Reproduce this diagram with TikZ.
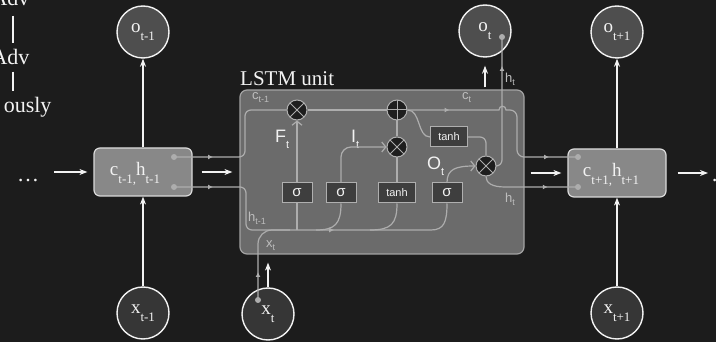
\documentclass[tikz,border=0pt]{standalone}
\usepackage{fontspec}
\setmainfont{Liberation Serif}
\newfontfamily\sansf{Liberation Sans}
\usetikzlibrary{arrows.meta,decorations.markings,calc}

\definecolor{bgc}{HTML}{1C1C1C}
\definecolor{unitfill}{HTML}{6B6B6B}
\definecolor{unitdraw}{HTML}{A3A3A3}
\definecolor{chfill}{HTML}{888888}
\definecolor{chdraw}{HTML}{DADADA}
\definecolor{gatefill}{HTML}{3E3E3E}
\definecolor{gatedraw}{HTML}{AFAFAF}
\definecolor{wirec}{HTML}{ADADAD}
\definecolor{opfill}{HTML}{1E1E1E}
\definecolor{ofill}{HTML}{4E4E4E}
\definecolor{xfill}{HTML}{363636}
\definecolor{lblc}{HTML}{BDBDBD}
\definecolor{wht}{HTML}{F2F2F2}

\newcommand\bigsub[2]{#1\raisebox{-8pt}{\fontsize{13}{13}\selectfont #2}}
\newcommand\gsub[2]{#1\raisebox{-3pt}{\fontsize{9}{9}\selectfont #2}}
\newcommand\gatesub[2]{#1\raisebox{-6pt}{\fontsize{11}{11}\selectfont #2}}

\begin{document}
\begin{tikzpicture}[x=1pt,y=-1pt,
  circ/.style={circle, draw=wht, line width=1.4pt, minimum size=52pt, inner sep=0pt,
    font=\fontsize{19}{19}\selectfont, text=wht},
  ocirc/.style={circ, fill=ofill},
  xcirc/.style={circ, fill=xfill},
  chbox/.style={rectangle, rounded corners=6pt, draw=chdraw, line width=1.2pt, fill=chfill,
    minimum width=98pt, minimum height=48pt},
  chtext/.style={text=wht, font=\fontsize{19}{19}\selectfont, inner sep=0pt},
  unitbox/.style={rectangle, rounded corners=7pt, draw=unitdraw, line width=1.2pt, fill=unitfill,
    minimum width=284pt, minimum height=164pt},
  gatebox/.style={rectangle, draw=gatedraw, line width=1pt, fill=gatefill, minimum height=20pt,
    inner sep=0pt, text=wht},
  sig/.style={gatebox, minimum width=30pt, font=\sansf\fontsize{15}{15}\selectfont},
  tanhbox/.style={gatebox, minimum width=37pt, font=\sansf\fontsize{11}{11}\selectfont},
  op/.style={circle, draw=gatedraw, line width=1pt, fill=opfill, minimum size=20pt, inner sep=0pt},
  times/.style={op, path picture={\draw[wirec, line width=1pt]
      ([shift={(45:10pt)}]path picture bounding box.center) -- ([shift={(225:10pt)}]path picture bounding box.center)
      ([shift={(135:10pt)}]path picture bounding box.center) -- ([shift={(-45:10pt)}]path picture bounding box.center);}},
  plus/.style={op, path picture={\draw[wirec, line width=1pt]
      ([xshift=-10pt]path picture bounding box.center) -- ([xshift=10pt]path picture bounding box.center)
      ([yshift=-10pt]path picture bounding box.center) -- ([yshift=10pt]path picture bounding box.center);}},
  wireline/.style={draw=wirec, line width=1.2pt},
  midarr/.style={postaction={decorate, decoration={markings,
      mark=at position #1 with {\arrow{Latex[length=5pt,width=5pt]}}}}},
  openarr/.style={-{Straight Barb[length=4pt,width=10pt]}},
  warrow/.style={draw=wht, line width=1.3pt, -{Stealth[length=8pt,width=6pt]}},
  dotn/.style={circle, fill=wirec, minimum size=6pt, inner sep=0pt},
  treetxt/.style={text=wht, font=\fontsize{22}{22}\selectfont},
  treeline/.style={draw=wht, line width=1.3pt},
  gl/.style={text=lblc, font=\sansf\fontsize{13}{13}\selectfont, anchor=base west, inner sep=0pt},
  wl/.style={text=wht, font=\sansf\fontsize{18}{18}\selectfont, anchor=base west, inner sep=0pt}
]
\useasboundingbox (0,0) rectangle (716,342);
\fill[bgc] (0,0) rectangle (716,342);

% left tree text
\node[treetxt, anchor=base east] (adv1) at (33,6) {Adv};
\node[treetxt, anchor=base east] (adv2) at (33,65) {Adv};
\node[treetxt, anchor=base east] (ously) at (55,113) {ously};
\draw[treeline, shorten <=6pt, shorten >=3pt] (adv1.south -| 13,0) -- (adv2.north -| 13,0);
\draw[treeline, shorten <=3pt, shorten >=3pt] (adv2.south -| 13,0) -- (ously.north -| 13,0);

% ellipses
\node[treetxt, anchor=base west, inner sep=0pt] (ellL) at (17,182) {…};
\node[treetxt, anchor=base west, inner sep=0pt] (ellR) at (711,182) {…};

% LSTM unit
\node[unitbox] (unit) at (382,172) {};
\node[anchor=base west, inner sep=0pt, text=wht, font=\fontsize{21}{21}\selectfont] (unitlbl) at (240,86) {LSTM unit};

% state boxes
\node[chbox] (boxL) at (143,172) {};
\node[chtext] (tL) at (135,174) {\bigsub{c}{t-1,}\bigsub{h}{t-1}};
\node[chbox] (boxR) at (617,173) {};
\node[chtext] (tR) at (611,175) {\bigsub{c}{t+1,}\bigsub{h}{t+1}};

% circles
\node[ocirc] (o1) at (143,32) {\bigsub{o}{t-1}};
\node[ocirc] (o2) at (485,31) {\bigsub{o}{t}};
\node[ocirc] (o3) at (617,32) {\bigsub{o}{t+1}};
\node[xcirc] (x1) at (143,313) {\bigsub{x}{t-1}};
\node[xcirc] (x2) at (268,314) {\bigsub{x}{t}};
\node[xcirc] (x3) at (617,313) {\bigsub{x}{t+1}};

% gates
\node[sig] (sf) at (297,193) {σ};
\node[sig] (si) at (341,193) {σ};
\node[tanhbox] (tc) at (397,193) {tanh};
\node[sig] (so) at (447,193) {σ};
\node[tanhbox] (tt) at (449,137) {tanh};
\node[times] (fg) at (297,110) {};
\node[plus] (add) at (397,110) {};
\node[times] (ig) at (397,147) {};
\node[times] (og) at (486,166) {};

% dots
\node[dotn] (dLc) at (174,157) {};
\node[dotn] (dLh) at (174,187) {};
\node[dotn] (dRc) at (578,157) {};
\node[dotn] (dRh) at (578,187) {};
\node[dotn] (dX) at (258,300) {};
\node[dotn] (dO) at (502,37) {};

% labels inside unit
\node[gl] (lc1) at (252,100) {\gsub{c}{t-1}};
\node[gl] (lh1) at (248,222) {\gsub{h}{t-1}};
\node[gl] (lx) at (266,248) {\gsub{x}{t}};
\node[gl] (lct) at (462,100) {\gsub{c}{t}};
\node[gl] (lht) at (505,83) {\gsub{h}{t}};
\node[gl] (lht2) at (505,203) {\gsub{h}{t}};
\node[wl] (lF) at (275,143) {\gatesub{F}{t}};
\node[wl] (lI) at (351,143) {\gatesub{I}{t}};
\node[wl] (lO) at (427,170) {\gatesub{O}{t}};

% wires: previous state into unit
\draw[wireline, midarr=39pt, rounded corners=6pt] (dLc.center) -- (245,157) -- (245,110) -- (fg.west);
\draw[wireline, midarr=39pt, midarr=198pt, rounded corners=6pt]
  (dLh.center) -- (246,187) -- (246,230) -- (425,230) .. controls (444,230) and (447,222) .. (so.south);
\draw[wireline, midarr=28pt, rounded corners=14pt] (dX.center) -- (258,230) -- (290,230);

% branches to gates
\draw[wireline] (sf.south) -- (sf.south |- 0,230);
\draw[wireline] (si.south) .. controls (341,224) and (335,230) .. (316,230);
\draw[wireline] (tc.south) .. controls (397,224) and (391,230) .. (370,230);

% gate outputs
\draw[wireline, openarr] (sf.north) -- (fg.south);
\draw[wireline, openarr, rounded corners=10pt] (si.north) -- (341,147) -- (ig.west);
\draw[wireline] (tc.north) -- (ig.south);
\draw[wireline, openarr] (so.north) .. controls (447,169) and (456,166) .. (og.west);

% cell state
\draw[wireline] (fg.east) -- (add.west);
\draw[wireline] (add.south) -- (ig.north);
\draw[wireline, midarr=42pt, midarr=187pt]
  (add.east) -- (499,110) .. controls (499,105) and (506,105) .. (506,110)
  [rounded corners=7pt] -- (517,110) -- (517,157) -- (dRc.center);
\draw[wireline] (add.east) .. controls (421,110) and (417,137) .. (tt.west);
\draw[wireline, rounded corners=6pt] (tt.east) -- (486,137) -- (og.north);

% hidden state out
\draw[wireline, midarr=67pt] (og.south) .. controls (486,183) and (492,187) .. (505,187) -- (dRh.center);
\draw[wireline, midarr=104pt, rounded corners=6pt] (og.east) -- (502,166) -- (dO.center);

% white arrows
\draw[warrow] (boxL) -- (o1);
\draw[warrow] (x1) -- (boxL);
\draw[warrow] (boxR) -- (o3);
\draw[warrow] (x3) -- (boxR);
\draw[warrow, shorten <=15pt, shorten >=6pt] (ellL.east |- boxL.west) -- (boxL.west);
\draw[warrow, shorten <=9pt, shorten >=7pt] (boxL.east) -- (unit.west |- boxL.east);
\draw[warrow, shorten <=6pt, shorten >=6pt] (unit.east |- boxR.west) -- (boxR.west);
\draw[warrow, shorten <=11pt, shorten >=3pt] (boxR.east) -- (ellR.west |- boxR.east);
\draw[warrow, shorten >=8pt] (x2.north) -- (x2.north |- unit.south);
\draw[warrow, shorten <=2pt, shorten >=8pt] (o2.south |- unit.north) -- (o2.south);
\end{tikzpicture}
\end{document}
